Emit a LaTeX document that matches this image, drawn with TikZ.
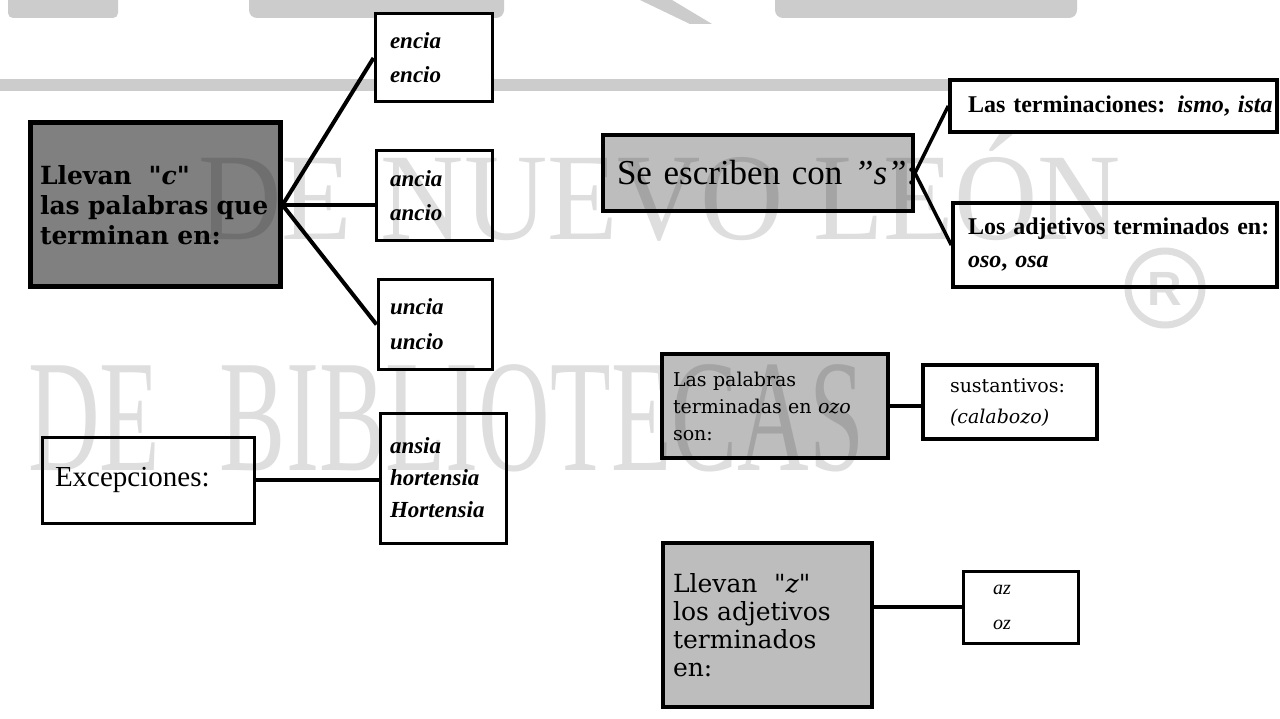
\documentclass[tikz,border=0pt]{standalone}
\usepackage{fontspec}
\setmainfont{Liberation Serif}
\newfontfamily\dvs{DejaVu Serif}
\newfontfamily\lsans{Liberation Sans}
\usetikzlibrary{calc}
\definecolor{darkbox}{gray}{0.50}
\definecolor{lightbox}{gray}{0.74}
\definecolor{bandgray}{gray}{0.80}
\tikzset{
  bx/.style={draw=black, line width=3pt, fill=white, inner sep=0pt, align=left},
  darkbx/.style={bx, fill=darkbox, line width=5pt},
  lightbx/.style={bx, fill=lightbox, line width=4pt},
  conn/.style={draw=black, line width=4pt},
  thinconn/.style={draw=black, line width=3.5pt},
  wm/.style={text=black, opacity=0.13, inner sep=0pt, anchor=base west},
  ending/.style={font=\fontsize{23}{34}\selectfont\bfseries\itshape}
}
\begin{document}
\begin{tikzpicture}[x=1pt, y=-1pt]
\fill[white] (0,0) rectangle (1280,719);
\useasboundingbox (0,0) rectangle (1280,719);
% header remnants
\fill[bandgray] (0,79) rectangle (1100,91);
\fill[bandgray, rounded corners=5pt] (8,-10) rectangle (118,18);
\fill[bandgray, rounded corners=8pt] (249,-10) rectangle (504,18);
\fill[bandgray] (640,0) -- (672,0) -- (712,24) -- (690,24) -- cycle;
\fill[bandgray, rounded corners=8pt] (775,-10) rectangle (1077,18);

% left group
\node[darkbx, minimum width=250pt, minimum height=164pt, text width=230pt,
      font=\dvs\fontsize{25}{30}\selectfont\bfseries] (Lc) at (155,205)
  {\mbox{Llevan \ \textit{"c"}}\\\mbox{las palabras que}\\\mbox{terminan en:}};
\node[bx, minimum width=117pt, minimum height=88pt, text width=87pt, ending] (encia) at (433.5,58)
  {encia\\encio};
\node[bx, minimum width=116pt, minimum height=90pt, text width=88pt, ending] (ancia) at (434,196)
  {ancia\\ancio};
\node[bx, minimum width=114pt, minimum height=89pt, text width=90pt, font=\fontsize{23}{35}\selectfont\bfseries\itshape] (uncia) at (435,324.5)
  {uncia\\uncio};
\node[bx, minimum width=212pt, minimum height=86pt, text width=186pt,
      font=\fontsize{29}{34}\selectfont] (Exc) at (148,480) {Excepciones:};
\node[bx, minimum width=126pt, minimum height=130pt, text width=106pt,
      font=\fontsize{23}{32}\selectfont\bfseries\itshape] (ansia) at (443,478)
  {ansia\\hortensia\\Hortensia};

% right group
\node[lightbx, minimum width=310pt, minimum height=76pt, text width=282pt,
      font=\fontsize{35}{40}\selectfont] (Se) at (758,173)
  {\mbox{Se escriben con \textit{"s"}:}};
\node[bx, line width=3.5pt, minimum width=327pt, minimum height=52pt, text width=291pt,
      font=\fontsize{24}{30}\selectfont\bfseries] (Lt) at (1113.5,106)
  {\mbox{Las terminaciones: \textit{ismo}, \textit{ista}}};
\node[bx, line width=3.5pt, minimum width=324pt, minimum height=84pt, text width=294pt,
      font=\fontsize{24}{33}\selectfont\bfseries] (La) at (1115,245)
  {\mbox{Los adjetivos terminados en:}\\\textit{oso}, \textit{osa}};
\node[lightbx, minimum width=226pt, minimum height=103pt, text width=204pt,
      font=\dvs\fontsize{19}{27}\selectfont] (Po) at (775,406)
  {\mbox{Las palabras}\\\mbox{terminadas en \textit{ozo}}\\son:};
\node[bx, line width=3.5pt, minimum width=174pt, minimum height=74pt, text width=120pt,
      font=\dvs\fontsize{19}{31}\selectfont] (su) at (1010,402)
  {sustantivos:\\\textit{(calabozo)}};
\node[lightbx, minimum width=209pt, minimum height=164pt, text width=189pt,
      font=\dvs\fontsize{25}{28}\selectfont] (Lz) at (767.5,625)
  {\mbox{Llevan \ \textit{"z"}}\\\mbox{los adjetivos}\\terminados\\en:};
\node[bx, minimum width=115pt, minimum height=72pt, text width=55pt,
      font=\fontsize{20}{35}\selectfont\itshape] (az) at (1020.5,607)
  {az\\oz};

% connectors
\draw[conn] (Lc.east) -- (encia.west);
\draw[conn] (Lc.east) -- (Lc.east -| ancia.west);
\draw[conn] (Lc.east) -- (uncia.west);
\draw[conn] (Exc.east) -- (Exc.east -| ansia.west);
\draw[thinconn] (Se.east) -- (Lt.west);
\draw[thinconn] (Se.east) -- (La.west);
\draw[thinconn] (Po.east) -- (Po.east -| su.west);
\draw[thinconn] (az.west -| Lz.east) -- (az.west);

% watermark
\node[wm, font=\fontsize{124}{124}\selectfont] (wm1) at (198,240)
  {\scalebox{0.93}[1]{DE NUEVO LEÓN}};
\node[wm, font=\fontsize{160}{160}\selectfont] (wm2) at (28,470)
  {\scalebox{0.62}[1]{DE\hspace{0.6em}BIBLIOTECAS}};
\draw[black, opacity=0.13, line width=7pt] (1165,288) circle (37);
\node[text=black, opacity=0.13, font=\lsans\bfseries\fontsize{48}{48}\selectfont] (wmr) at (1165,289) {R};
\end{tikzpicture}
\end{document}
